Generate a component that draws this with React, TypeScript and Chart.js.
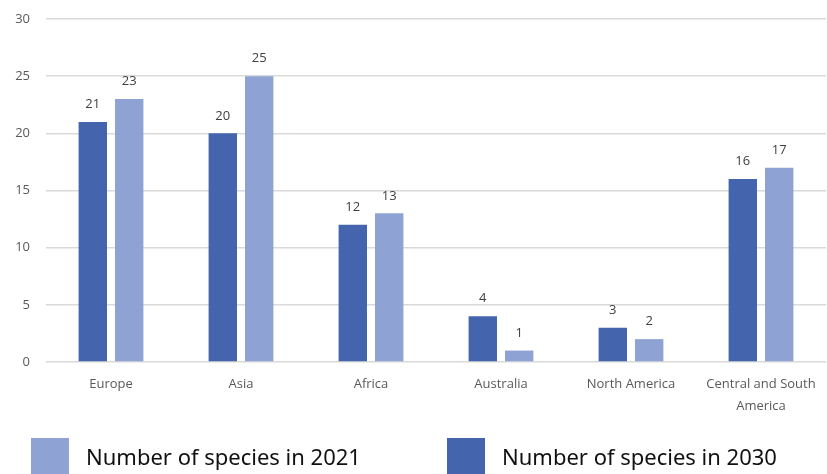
import React, { useEffect, useRef } from "react";
import { Chart, registerables } from "chart.js";

Chart.register(...registerables);

const regions: (string | string[])[] = [
  "Europe",
  "Asia",
  "Africa",
  "Australia",
  "North America",
  ["Central and South", "America"],
];
const species2030 = [21, 20, 12, 4, 3, 16];
const species2021 = [23, 25, 13, 1, 2, 17];
const yTicks = [0, 5, 10, 15, 20, 25, 30];

const DARK = "#4464ad";
const LIGHT = "#8ea3d4";
const AXIS_FONT = "'Open Sans', 'Noto Sans', sans-serif";

// Value labels drawn above each bar
const valueLabels = {
  id: "valueLabels",
  afterDatasetsDraw(chart: any) {
    const { ctx } = chart;
    ctx.save();
    ctx.font = `13px ${AXIS_FONT}`;
    ctx.fillStyle = "#404040";
    ctx.textAlign = "center";
    ctx.textBaseline = "bottom";
    chart.data.datasets.forEach((ds: any, i: number) => {
      const meta = chart.getDatasetMeta(i);
      meta.data.forEach((bar: any, j: number) => {
        ctx.fillText(String(ds.data[j]), bar.x, bar.y - 11);
      });
    });
    ctx.restore();
  },
};

// Legend at the bottom: 2021 series first, then 2030
const bottomLegend = {
  id: "bottomLegend",
  afterDraw(chart: any) {
    const { ctx } = chart;
    const order = [1, 0];
    const startX = [31, 447];
    ctx.save();
    ctx.font = `22px 'Noto Sans', 'Open Sans', sans-serif`;
    ctx.textBaseline = "middle";
    ctx.textAlign = "left";
    order.forEach((dsIndex, k) => {
      const ds = chart.data.datasets[dsIndex];
      const x = startX[k];
      ctx.fillStyle = ds.backgroundColor;
      ctx.fillRect(x, 438, 38, 38);
      ctx.fillStyle = "#111111";
      ctx.fillText(ds.label, x + 55, 459);
    });
    ctx.restore();
  },
};

export default function App() {
  const canvasRef = useRef<HTMLCanvasElement | null>(null);

  useEffect(() => {
    document.body.style.margin = "0";
    const canvas = canvasRef.current;
    if (!canvas) return;
    const chart = new Chart(canvas, {
      type: "bar",
      data: {
        labels: regions,
        datasets: [
          {
            label: "Number of species in 2030",
            data: species2030,
            backgroundColor: DARK,
            categoryPercentage: 0.56,
            barPercentage: 0.78,
          },
          {
            label: "Number of species in 2021",
            data: species2021,
            backgroundColor: LIGHT,
            categoryPercentage: 0.56,
            barPercentage: 0.78,
          },
        ],
      },
      options: {
        animation: false,
        responsive: false,
        maintainAspectRatio: false,
        layout: { padding: { top: 19, right: 1, bottom: 52, left: 0 } },
        plugins: {
          legend: { display: false },
          tooltip: { enabled: false },
        },
        scales: {
          x: {
            grid: { display: false, drawTicks: false },
            border: { display: false },
            ticks: {
              color: "#595959",
              font: { size: 13, family: AXIS_FONT, lineHeight: 1.7 },
              padding: 11,
              maxRotation: 0,
              autoSkip: false,
            },
            afterFit(scale: any) {
              scale.height = 60;
            },
          },
          y: {
            min: 0,
            max: 30,
            afterBuildTicks(scale: any) {
              scale.ticks = yTicks.map((v) => ({ value: v }));
            },
            grid: {
              color: "#d9d9d9",
              lineWidth: 1.5,
              drawTicks: true,
              tickLength: 16,
              tickColor: "rgba(0,0,0,0)",
            },
            border: { display: false },
            ticks: {
              color: "#595959",
              font: { size: 13, family: AXIS_FONT },
              padding: 0,
            },
            afterFit(scale: any) {
              scale.width = 46;
            },
          },
        },
      },
      plugins: [valueLabels, bottomLegend],
    });
    return () => chart.destroy();
  }, []);

  return (
    <div style={{ position: "absolute", left: 0, top: 0, width: 827, height: 474, background: "#ffffff" }}>
      <canvas ref={canvasRef} width={827} height={474} />
    </div>
  );
}
